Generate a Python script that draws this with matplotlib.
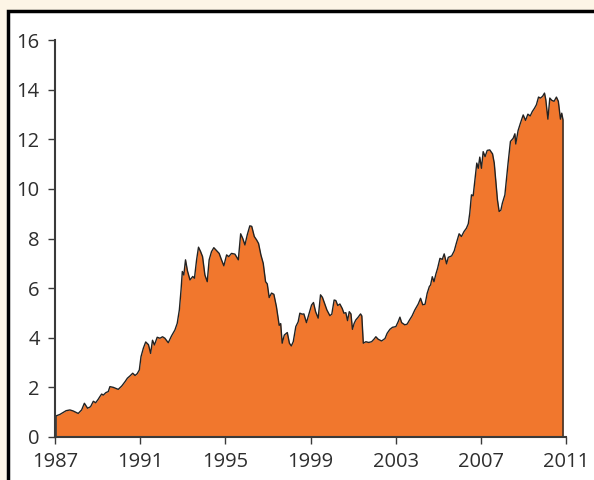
import numpy as np
import matplotlib.pyplot as plt
from matplotlib.patches import Rectangle

# dane (rok dziesiętny, wartość)
dates = [
    1987.05, 1987.23, 1987.52, 1987.70, 1987.85, 1988.09, 1988.25, 1988.38, 1988.53, 1988.67,
    1988.80, 1988.91, 1989.03, 1989.11, 1989.19, 1989.27, 1989.39, 1989.50, 1989.58, 1989.74,
    1989.97, 1990.13, 1990.29, 1990.40, 1990.52, 1990.65, 1990.76, 1990.86, 1990.96, 1991.04,
    1991.15, 1991.26, 1991.39, 1991.49, 1991.58, 1991.67, 1991.80, 1991.93, 1992.05, 1992.16,
    1992.32, 1992.47, 1992.63, 1992.74, 1992.84, 1992.92, 1992.98, 1993.05, 1993.13, 1993.22,
    1993.34, 1993.47, 1993.55, 1993.65, 1993.74, 1993.84, 1993.93, 1994.04, 1994.15, 1994.24,
    1994.35, 1994.46, 1994.59, 1994.71, 1994.82, 1994.93, 1995.06, 1995.16, 1995.29, 1995.45,
    1995.61, 1995.72, 1995.82, 1995.92, 1996.03, 1996.15, 1996.24, 1996.36, 1996.47, 1996.56,
    1996.67, 1996.78, 1996.89, 1996.97, 1997.06, 1997.17, 1997.28, 1997.40, 1997.53, 1997.60,
    1997.67, 1997.77, 1997.91, 1998.01, 1998.10, 1998.19, 1998.31, 1998.42, 1998.50, 1998.61,
    1998.69, 1998.81, 1998.94, 1999.05, 1999.14, 1999.24, 1999.36, 1999.47, 1999.56, 1999.66,
    1999.77, 1999.91, 2000.00, 2000.11, 2000.19, 2000.28, 2000.38, 2000.49, 2000.57, 2000.66,
    2000.74, 2000.82, 2000.90, 2000.97, 2001.05, 2001.13, 2001.24, 2001.35, 2001.41, 2001.48,
    2001.60, 2001.73, 2001.87, 2001.98, 2002.07, 2002.18, 2002.34, 2002.50, 2002.60, 2002.73,
    2002.85, 2003.01, 2003.12, 2003.20, 2003.28, 2003.43, 2003.54, 2003.64, 2003.77, 2003.90,
    2004.06, 2004.17, 2004.27, 2004.38, 2004.48, 2004.58, 2004.64, 2004.72, 2004.80, 2004.89,
    2004.97, 2005.08, 2005.19, 2005.28, 2005.39, 2005.47, 2005.63, 2005.75, 2005.85, 2005.98,
    2006.09, 2006.21, 2006.32, 2006.41, 2006.48, 2006.56, 2006.64, 2006.72, 2006.81, 2006.88,
    2006.95, 2007.03, 2007.11, 2007.20, 2007.30, 2007.42, 2007.55, 2007.63, 2007.70, 2007.78,
    2007.86, 2007.94, 2008.01, 2008.13, 2008.20, 2008.28, 2008.39, 2008.52, 2008.60, 2008.64,
    2008.75, 2008.86, 2008.99, 2009.10, 2009.21, 2009.32, 2009.42, 2009.52, 2009.61, 2009.71,
    2009.80, 2009.90, 2009.99, 2010.05, 2010.15, 2010.24, 2010.33, 2010.44, 2010.55, 2010.64,
    2010.74, 2010.80, 2010.86,
]
values = [
    0.85, 0.91, 1.06, 1.09, 1.05, 0.95, 1.09, 1.36, 1.16, 1.22,
    1.44, 1.38, 1.52, 1.63, 1.73, 1.69, 1.79, 1.83, 2.03, 2.00,
    1.92, 2.05, 2.23, 2.37, 2.46, 2.57, 2.48, 2.55, 2.70, 3.24,
    3.58, 3.83, 3.72, 3.37, 3.90, 3.71, 4.02, 3.98, 4.04, 3.98,
    3.80, 4.07, 4.31, 4.58, 5.12, 5.93, 6.67, 6.53, 7.14, 6.70,
    6.33, 6.47, 6.40, 7.14, 7.65, 7.47, 7.27, 6.53, 6.26, 7.14,
    7.47, 7.63, 7.51, 7.40, 7.14, 6.90, 7.34, 7.27, 7.40, 7.37,
    7.14, 8.19, 8.00, 7.74, 8.15, 8.51, 8.49, 8.08, 7.94, 7.80,
    7.34, 7.00, 6.26, 6.17, 5.62, 5.80, 5.75, 5.25, 4.50, 4.57,
    3.78, 4.11, 4.21, 3.78, 3.67, 3.84, 4.45, 4.64, 4.99, 4.95,
    4.96, 4.61, 4.99, 5.32, 5.42, 5.05, 4.79, 5.73, 5.63, 5.39,
    5.12, 4.89, 4.95, 5.52, 5.50, 5.30, 5.36, 5.18, 4.99, 5.01,
    4.69, 5.05, 4.96, 4.34, 4.58, 4.72, 4.83, 4.96, 4.88, 3.78,
    3.84, 3.81, 3.84, 3.94, 4.04, 3.94, 3.87, 3.97, 4.18, 4.34,
    4.42, 4.45, 4.65, 4.83, 4.61, 4.52, 4.55, 4.70, 4.88, 5.12,
    5.36, 5.59, 5.33, 5.35, 5.79, 6.06, 6.13, 6.46, 6.26, 6.57,
    6.80, 7.20, 7.16, 7.38, 6.98, 7.24, 7.30, 7.50, 7.81, 8.19,
    8.08, 8.28, 8.41, 8.59, 9.02, 9.76, 9.72, 10.36, 11.04, 10.83,
    11.28, 10.83, 11.50, 11.30, 11.55, 11.57, 11.41, 11.04, 10.36, 9.56,
    9.09, 9.14, 9.42, 9.76, 10.36, 11.04, 11.91, 12.04, 12.22, 11.81,
    12.35, 12.65, 12.98, 12.76, 13.01, 12.94, 13.12, 13.25, 13.39, 13.70,
    13.66, 13.73, 13.86, 13.60, 12.81, 13.66, 13.57, 13.53, 13.70, 13.53,
    12.81, 13.05, 12.78,
]
year_ticks = [1987, 1991, 1995, 1999, 2003, 2007, 2011]
value_ticks = [0, 2, 4, 6, 8, 10, 12, 14, 16]

plt.rcParams['font.family'] = ['Open Sans', 'DejaVu Sans']

fig = plt.figure(figsize=(5.94, 4.8), dpi=100)
fig.patch.set_facecolor('#FDF5E6')

# białe pole z czarną ramką (pod osiami)
frame = Rectangle((8 / 594, -0.05), 1.0, (480 - 11) / 480 + 0.05,
                  transform=fig.transFigure, facecolor='white',
                  edgecolor='black', linewidth=2.5, zorder=-10)
fig.patches.append(frame)

ax = fig.add_axes([55 / 594, 43 / 480, (566 - 55) / 594, (437 - 40) / 480])
ax.set_facecolor('none')
ax.set_zorder(5)

x = np.array(dates)
y = np.array(values)
ax.fill_between(x, 0, y, color='#F1772D', linewidth=0, zorder=2)
x_line = np.concatenate([[x[0]], x, [x[-1]]])
y_line = np.concatenate([[0], y, [0]])
ax.plot(x_line, y_line, color='#222222', linewidth=1.0, zorder=3)

ax.set_xlim(1987, 2011)
ax.set_ylim(0, 16)
ax.set_xticks(year_ticks)
ax.set_yticks(value_ticks)

for side in ['top', 'right']:
    ax.spines[side].set_visible(False)
for side in ['left', 'bottom']:
    ax.spines[side].set_color('#3a3a3a')
    ax.spines[side].set_linewidth(1.5)
    ax.spines[side].set_zorder(4)

ax.tick_params(direction='out', length=5, width=1, color='#3a3a3a',
               labelsize=14.5, labelcolor='#2e2e2e', pad=6)

fig.savefig('out.png', dpi=100, facecolor=fig.get_facecolor())
